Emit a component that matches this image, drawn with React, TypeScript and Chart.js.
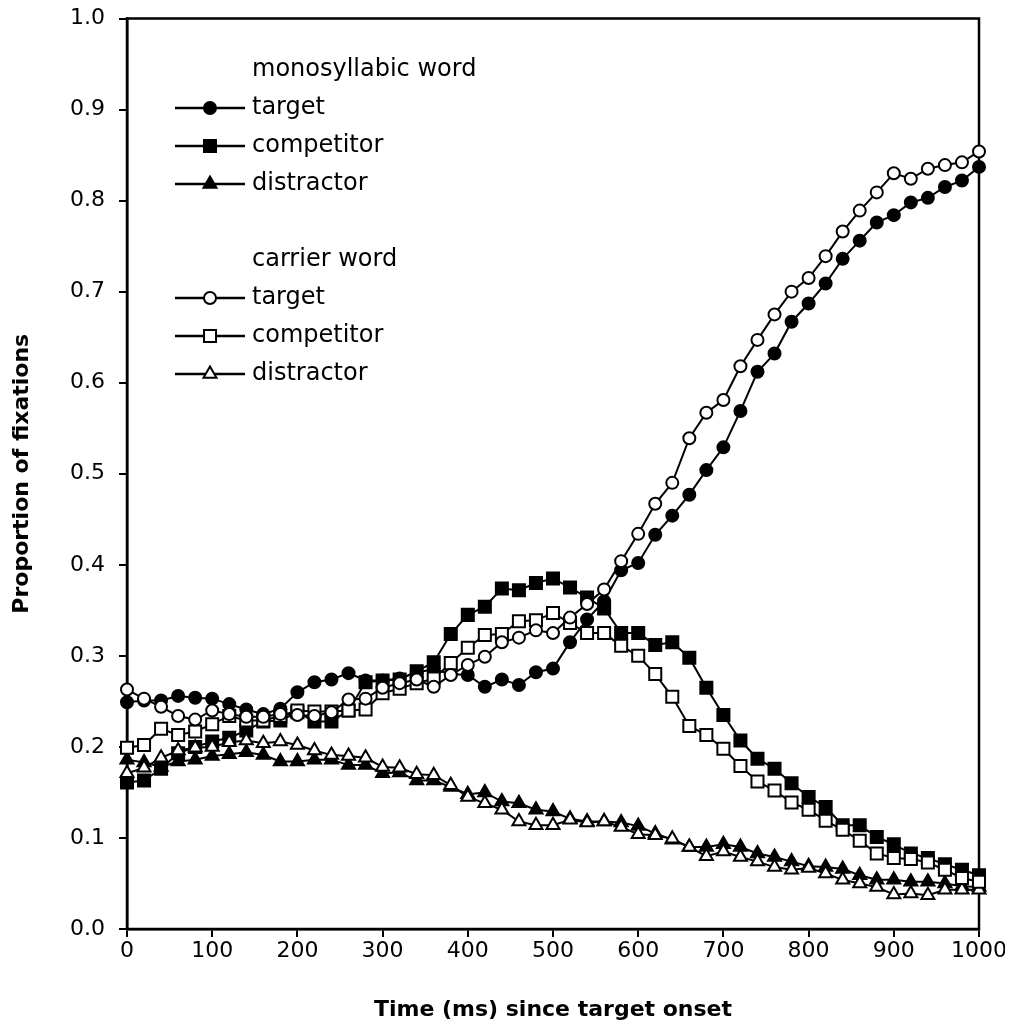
import React, { useEffect, useRef } from 'react';
import { Chart, registerables } from 'chart.js';
import { drawPoint } from 'chart.js/helpers';

Chart.register(...registerables);

const FONT = '"DejaVu Sans", Verdana, sans-serif';

// Time (ms) since target onset
const timesMs = [
  0, 20, 40, 60, 80, 100, 120, 140, 160, 180,
  200, 220, 240, 260, 280, 300, 320, 340, 360, 380,
  400, 420, 440, 460, 480, 500, 520, 540, 560, 580,
  600, 620, 640, 660, 680, 700, 720, 740, 760, 780,
  800, 820, 840, 860, 880, 900, 920, 940, 960, 980,
  1000,
];

// monosyllabic word
const monoTarget = [
  0.249, 0.251, 0.251, 0.256, 0.254, 0.253, 0.247, 0.241, 0.236, 0.242,
  0.260, 0.271, 0.274, 0.281, 0.273, 0.273, 0.275, 0.282, 0.285, 0.280,
  0.279, 0.266, 0.274, 0.268, 0.282, 0.286, 0.315, 0.340, 0.360, 0.394,
  0.402, 0.433, 0.454, 0.477, 0.504, 0.529, 0.569, 0.612, 0.632, 0.667,
  0.687, 0.709, 0.736, 0.756, 0.776, 0.784, 0.798, 0.803, 0.815, 0.822,
  0.837,
];
const monoCompetitor = [
  0.161, 0.163, 0.176, 0.193, 0.200, 0.206, 0.210, 0.218, 0.228, 0.229,
  0.238, 0.228, 0.228, 0.240, 0.271, 0.273, 0.274, 0.283, 0.293, 0.324,
  0.345, 0.354, 0.374, 0.372, 0.380, 0.385, 0.375, 0.364, 0.352, 0.325,
  0.325, 0.312, 0.315, 0.298, 0.265, 0.235, 0.207, 0.187, 0.176, 0.160,
  0.145, 0.134, 0.114, 0.114, 0.101, 0.093, 0.083, 0.078, 0.071, 0.065,
  0.059,
];
const monoDistractor = [
  0.186, 0.183, 0.178, 0.184, 0.186, 0.190, 0.192, 0.194, 0.191, 0.184,
  0.184, 0.186, 0.186, 0.180, 0.180, 0.171, 0.172, 0.163, 0.163, 0.156,
  0.148, 0.150, 0.140, 0.138, 0.131, 0.129, 0.121, 0.118, 0.118, 0.117,
  0.113, 0.105, 0.098, 0.090, 0.090, 0.093, 0.090, 0.083, 0.079, 0.074,
  0.069, 0.068, 0.066, 0.059, 0.054, 0.054, 0.052, 0.052, 0.050, 0.047,
  0.046,
];

// carrier word
const carrierTarget = [
  0.263, 0.253, 0.244, 0.234, 0.230, 0.240, 0.236, 0.233, 0.233, 0.236,
  0.235, 0.234, 0.238, 0.252, 0.253, 0.265, 0.270, 0.274, 0.266, 0.279,
  0.290, 0.299, 0.315, 0.320, 0.328, 0.325, 0.342, 0.357, 0.373, 0.404,
  0.434, 0.467, 0.490, 0.539, 0.567, 0.581, 0.618, 0.647, 0.675, 0.700,
  0.715, 0.739, 0.766, 0.789, 0.809, 0.830, 0.824, 0.835, 0.839, 0.842,
  0.854,
];
const carrierCompetitor = [
  0.199, 0.202, 0.220, 0.213, 0.217, 0.225, 0.234, 0.229, 0.229, 0.234,
  0.240, 0.239, 0.239, 0.240, 0.241, 0.259, 0.264, 0.270, 0.275, 0.292,
  0.309, 0.323, 0.324, 0.338, 0.339, 0.347, 0.336, 0.325, 0.325, 0.311,
  0.300, 0.280, 0.255, 0.223, 0.213, 0.198, 0.179, 0.162, 0.152, 0.139,
  0.131, 0.119, 0.109, 0.097, 0.083, 0.078, 0.077, 0.073, 0.065, 0.056,
  0.052,
];
const carrierDistractor = [
  0.171, 0.177, 0.188, 0.196, 0.199, 0.200, 0.205, 0.207, 0.204, 0.206,
  0.202, 0.196, 0.191, 0.190, 0.188, 0.178, 0.177, 0.170, 0.169, 0.158,
  0.145, 0.138, 0.131, 0.118, 0.114, 0.114, 0.120, 0.117, 0.118, 0.112,
  0.104, 0.103, 0.099, 0.090, 0.080, 0.085, 0.079, 0.074, 0.068, 0.065,
  0.067, 0.061, 0.054, 0.050, 0.046, 0.038, 0.039, 0.037, 0.043, 0.043,
  0.043,
];

const groupTitles = ['monosyllabic word', 'carrier word'];
const seriesLabels = ['target', 'competitor', 'distractor'];
const xTitle = 'Time (ms) since target onset';
const yTitle = 'Proportion of fixations';

type SeriesDef = {
  label: string;
  group: number;
  values: number[];
  pointStyle: 'circle' | 'rect' | 'triangle';
  filled: boolean;
  radius: number;
};

const seriesDefs: SeriesDef[] = [
  { label: seriesLabels[0], group: 0, values: monoTarget, pointStyle: 'circle', filled: true, radius: 6 },
  { label: seriesLabels[1], group: 0, values: monoCompetitor, pointStyle: 'rect', filled: true, radius: 8.5 },
  { label: seriesLabels[2], group: 0, values: monoDistractor, pointStyle: 'triangle', filled: true, radius: 7.5 },
  { label: seriesLabels[0], group: 1, values: carrierTarget, pointStyle: 'circle', filled: false, radius: 6 },
  { label: seriesLabels[1], group: 1, values: carrierCompetitor, pointStyle: 'rect', filled: false, radius: 8.5 },
  { label: seriesLabels[2], group: 1, values: carrierDistractor, pointStyle: 'triangle', filled: false, radius: 7.5 },
];

const framePlugin = {
  id: 'frame',
  beforeDatasetsDraw(chart: any) {
    const { ctx, chartArea } = chart;
    ctx.save();
    ctx.strokeStyle = '#000';
    ctx.lineWidth = 2.5;
    ctx.strokeRect(chartArea.left, chartArea.top, chartArea.right - chartArea.left, chartArea.bottom - chartArea.top);
    ctx.restore();
  },
};

const legendPlugin = {
  id: 'groupLegend',
  afterDraw(chart: any) {
    const { ctx } = chart;
    const rowH = 38;
    const lineX0 = 167;
    const lineX1 = 237;
    const markerX = 202;
    const textX = 244;
    let y = 62;
    ctx.save();
    ctx.font = `24px ${FONT}`;
    ctx.textBaseline = 'middle';
    ctx.textAlign = 'left';
    groupTitles.forEach((title, gi) => {
      ctx.fillStyle = '#000';
      ctx.fillText(title, textX, y);
      y += rowH;
      seriesDefs.filter((s) => s.group === gi).forEach((s) => {
        ctx.strokeStyle = '#000';
        ctx.lineWidth = 2.5;
        ctx.beginPath();
        ctx.moveTo(lineX0, y);
        ctx.lineTo(lineX1, y);
        ctx.stroke();
        ctx.fillStyle = s.filled ? '#000' : '#fff';
        ctx.strokeStyle = '#000';
        ctx.lineWidth = 2;
        drawPoint(ctx, { pointStyle: s.pointStyle, rotation: 0, radius: s.radius, borderWidth: 2 }, markerX, y);
        ctx.fillStyle = '#000';
        ctx.fillText(s.label, textX, y);
        y += rowH;
      });
      y += rowH;
    });
    ctx.restore();
  },
};

export default function App() {
  const canvasRef = useRef<HTMLCanvasElement | null>(null);

  useEffect(() => {
    if (!canvasRef.current) return;
    const datasets = seriesDefs.map((s) => ({
      label: s.label,
      data: timesMs.map((t, i) => ({ x: t, y: s.values[i] })),
      borderColor: '#000',
      borderWidth: 2,
      backgroundColor: s.filled ? '#000' : '#fff',
      pointStyle: s.pointStyle,
      pointRadius: s.radius,
      pointBorderWidth: 2,
      pointBorderColor: '#000',
      pointBackgroundColor: s.filled ? '#000' : '#fff',
      tension: 0,
      fill: false,
      clip: false as any,
      order: s.filled ? 1 : 0,
    }));

    const chart = new Chart(canvasRef.current, {
      type: 'line',
      data: { datasets },
      options: {
        animation: false,
        responsive: false,
        layout: { padding: { top: 10, right: 26, left: 0, bottom: 0 } },
        plugins: {
          legend: { display: false },
          tooltip: { enabled: false },
        },
        scales: {
          x: {
            type: 'linear',
            min: 0,
            max: 1000,
            ticks: {
              stepSize: 100,
              color: '#000',
              font: { family: FONT, size: 22 },
              padding: 1,
              maxRotation: 0,
              callback: (v: any) => String(v),
            },
            grid: { drawOnChartArea: false, drawTicks: true, tickLength: 8, color: '#000', lineWidth: 2 },
            border: { color: '#000', width: 2.5 },
            title: {
              display: true,
              text: xTitle,
              color: '#000',
              font: { family: FONT, size: 22, weight: 'bold' },
              padding: { top: 0, bottom: 3 },
            },
            afterFit: (scale: any) => {
              scale.height = 97;
              scale.paddingLeft = 0;
              scale.paddingRight = 0;
            },
          },
          y: {
            type: 'linear',
            min: 0,
            max: 1,
            ticks: {
              stepSize: 0.1,
              color: '#000',
              font: { family: FONT, size: 22 },
              padding: 14,
              callback: (v: any) => Number(v).toFixed(1),
            },
            grid: { drawOnChartArea: false, drawTicks: true, tickLength: 8, color: '#000', lineWidth: 2 },
            border: { color: '#000', width: 2.5 },
            title: {
              display: true,
              text: yTitle,
              color: '#000',
              font: { family: FONT, size: 22, weight: 'bold' },
              padding: { top: 1, bottom: 0 },
            },
            afterFit: (scale: any) => {
              scale.width = 119;
              scale.paddingTop = 0;
              scale.paddingBottom = 0;
            },
          },
        },
      },
      plugins: [framePlugin, legendPlugin],
    });
    return () => chart.destroy();
  }, []);

  return (
    <div style={{ width: 997, height: 1018 }}>
      <canvas ref={canvasRef} width={997} height={1018} style={{ display: 'block' }} />
    </div>
  );
}
